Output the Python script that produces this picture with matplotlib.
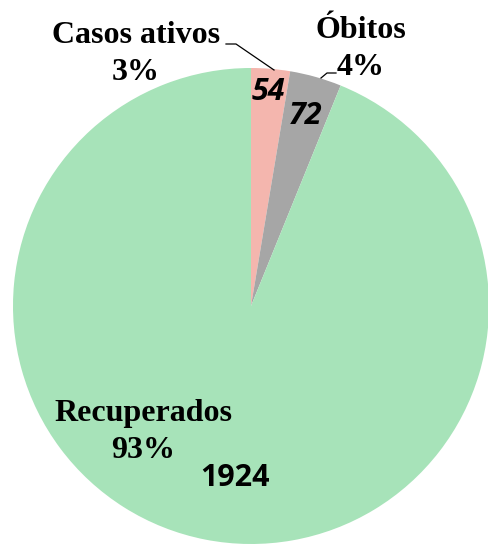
import matplotlib.pyplot as plt

# dados do gráfico
categorias = ['Casos ativos', 'Óbitos', 'Recuperados']
valores = [54, 72, 1924]
percentuais = ['3%', '4%', '93%']
cores = ['#F4B6AE', '#A6A6A6', '#A7E3B9']

fig = plt.figure(figsize=(4.89, 5.44), dpi=100)
ax = fig.add_axes([0, 0, 1, 1])

# eixo y invertido: startangle -90 aponta para cima, anti-horario vira horario na tela
ax.pie(valores, colors=cores, startangle=-90, counterclock=True,
       center=(251, 306), radius=238, frame=True,
       wedgeprops=dict(linewidth=0))
ax.set_aspect('equal')
ax.set_xlim(0, 489)
ax.set_ylim(544, 0)
ax.axis('off')

serif = dict(family='Liberation Serif', weight='bold', fontsize=23,
             ha='center', va='center', linespacing=1.35)
ax.text(136, 54, categorias[0] + '\n' + percentuais[0], **serif)
ax.text(361, 49, categorias[1] + '\n' + percentuais[1], **serif)
ax.text(143, 432, categorias[2] + '\n' + percentuais[2], **serif)

num = dict(family='Open Sans', weight='bold', fontsize=22,
           ha='center', va='center')
ax.text(268, 92, str(valores[0]), style='italic', **num)
ax.text(306, 116, str(valores[1]), style='italic', **num)
ax.text(235, 478, str(valores[2]), **num)

# linhas de chamada
ax.plot([226, 236, 274], [44, 44, 70], color='black', lw=0.9)
ax.plot([321, 327, 336], [78, 73, 73], color='black', lw=0.9)

fig.savefig('out.png', dpi=100)
